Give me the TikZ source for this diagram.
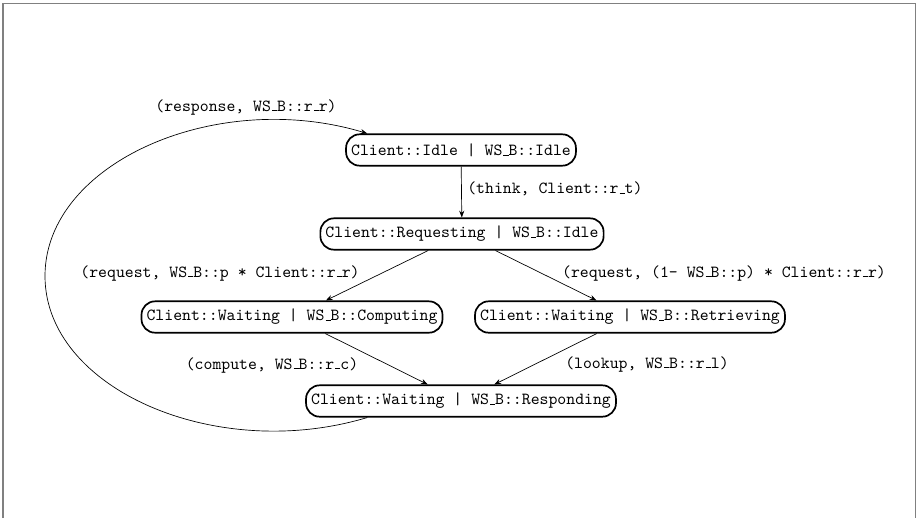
\documentclass[tikz,border=0pt]{standalone}
\usepackage{tikz}
\usetikzlibrary{arrows.meta}
\newcommand{\usc}{\leavevmode\kern.06em\vbox{\hrule width.3em}}
\tikzset{
  st/.style={draw,line width=1pt,rounded corners=8pt,inner xsep=3pt,inner ysep=0pt,minimum height=18.5pt,font=\ttfamily},
  tr/.style={-{Stealth[length=4pt,width=3pt]}},
  lbl/.style={font=\ttfamily,inner sep=0pt}
}
\begin{document}
\begin{tikzpicture}[x=0.59pt,y=-0.59pt]
\useasboundingbox (0,0) rectangle (917,518);
\draw[gray,line width=0.9pt] (3,518) -- (3,3.5) -- (915.5,3.5) -- (915.5,518);
% states
\node[st] (idle) at (461,150) {Client::Idle | WS\usc B::Idle};
\node[st] (req) at (462,234) {Client::Requesting | WS\usc B::Idle};
\node[st] (comp) at (292,317) {Client::Waiting | WS\usc B::Computing};
\node[st] (retr) at (630,317) {Client::Waiting | WS\usc B::Retrieving};
\node[st] (resp) at (461,401) {Client::Waiting | WS\usc B::Responding};
% transitions
\draw[tr] (idle) -- (req);
\draw[tr] (req) -- (comp);
\draw[tr] (req) -- (retr);
\draw[tr] (comp) -- (resp);
\draw[tr] (retr) -- (resp);
\draw[tr] (resp.190) .. controls (216,463) and (45,389) .. (45,276)
  .. controls (45,163) and (216,88) .. (idle.170);
% rates
\node[lbl] (lresp) at (246,107) {(response, WS\usc B::r\usc r)};
\node[lbl,anchor=west] (lthink) at (467,189) {(think, Client::r\usc t)};
\node[lbl] (lreqc) at (220,273) {(request, WS\usc B::p * Client::r\usc r)};
\node[lbl] (lreqr) at (724,273) {(request, (1- WS\usc B::p) * Client::r\usc r)};
\node[lbl] (lcomp) at (272,365) {(compute, WS\usc B::r\usc c)};
\node[lbl] (llook) at (647,364) {(lookup, WS\usc B::r\usc l)};
\end{tikzpicture}
\end{document}
